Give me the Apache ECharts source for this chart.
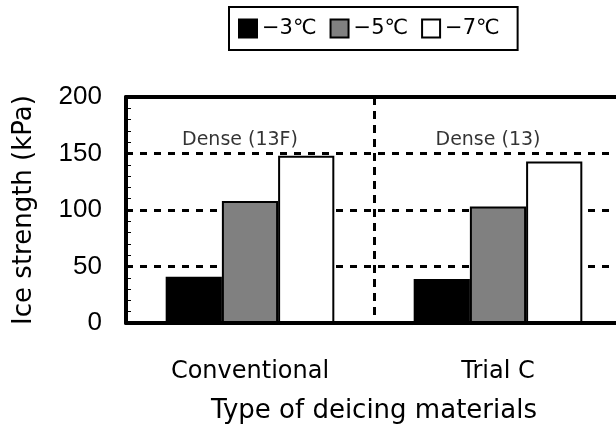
<!DOCTYPE html>
<html>
<head>
<meta charset="utf-8">
<script src="https://cdn.jsdelivr.net/npm/echarts@6/dist/echarts.min.js"></script>
<style>html,body{margin:0;padding:0;background:#fff;overflow:hidden}#c{width:616px;height:425px}</style>
</head>
<body>
<div id="c"></div>
<script>
var categories = ['Conventional', 'Trial C'];
var seriesNames = ['\u22123\u2103', '\u22125\u2103', '\u22127\u2103'];
var valuesM3 = [41, 39];
var valuesM5 = [108, 103];
var valuesM7 = [148, 143];
var annotations = ['Dense (13F)', 'Dense (13)'];
var annotationY = [162, 162];
var yTicks = [0, 50, 100, 150, 200];

var FONT = 'DejaVu Sans';
var chart = echarts.init(document.getElementById('c'), null, {renderer: 'canvas'});

var colors = ['#000000', '#808080', '#ffffff'];
var vals = [valuesM3, valuesM5, valuesM7];
var series = seriesNames.map(function (n, i) {
  return {
    name: n, type: 'bar', data: vals[i],
    barGap: '0%', barCategoryGap: '32%',
    itemStyle: {color: colors[i], borderColor: '#000', borderWidth: 2},
    emphasis: {disabled: true}
  };
});
series.push({
  type: 'scatter', symbolSize: 0, silent: true,
  data: annotations.map(function (t, i) { return {value: [i, annotationY[i]], name: t}; }),
  label: {show: true, position: 'inside', offset: [-10, 0], formatter: '{b}', color: '#000', fontFamily: FONT, fontSize: 19}
});

chart.setOption({
  animation: false,
  legend: {
    data: seriesNames, top: 7, left: 229,
    borderColor: '#000', borderWidth: 2, padding: [11, 18, 11, 9],
    itemWidth: 18, itemHeight: 18, itemGap: 13,
    icon: 'rect',
    textStyle: {fontFamily: FONT, fontSize: 21, color: '#000'}
  },
  grid: {left: 126, top: 97, width: 496, height: 226, containLabel: false, outerBoundsMode: 'none'},
  xAxis: [{
    type: 'category', data: categories, position: 'bottom',
    axisLine: {lineStyle: {color: '#000', width: 4}},
    axisTick: {show: false},
    axisLabel: {color: '#000', fontFamily: FONT, fontSize: 24, margin: 37},
    splitLine: {show: true, lineStyle: {color: '#000', width: 3, type: [8, 6]}},
    name: 'Type of deicing materials', nameLocation: 'middle', nameGap: 75,
    nameTextStyle: {color: '#000', fontFamily: FONT, fontSize: 26}
  }, {
    type: 'category', data: categories, position: 'top',
    axisLine: {show: true, lineStyle: {color: '#000', width: 4}},
    axisTick: {show: false}, axisLabel: {show: false}, splitLine: {show: false}
  }],
  yAxis: {
    type: 'value', min: yTicks[0], max: yTicks[yTicks.length - 1], interval: 50,
    axisLine: {show: true, lineStyle: {color: '#000', width: 4}},
    axisTick: {show: true, inside: true, length: 5, lineStyle: {color: '#000', width: 1}},
    minorTick: {show: true, splitNumber: 5, length: 5, lineStyle: {color: '#000', width: 1}},
    axisLabel: {color: '#000', fontFamily: 'Liberation Sans', fontSize: 26, margin: 24},
    splitLine: {show: true, lineStyle: {color: '#000', width: 3, type: [7, 7]}},
    name: 'Ice strength (kPa)', nameLocation: 'middle', nameGap: 89,
    nameTextStyle: {color: '#000', fontFamily: FONT, fontSize: 26}
  },
  series: series
});
</script>
</body>
</html>
